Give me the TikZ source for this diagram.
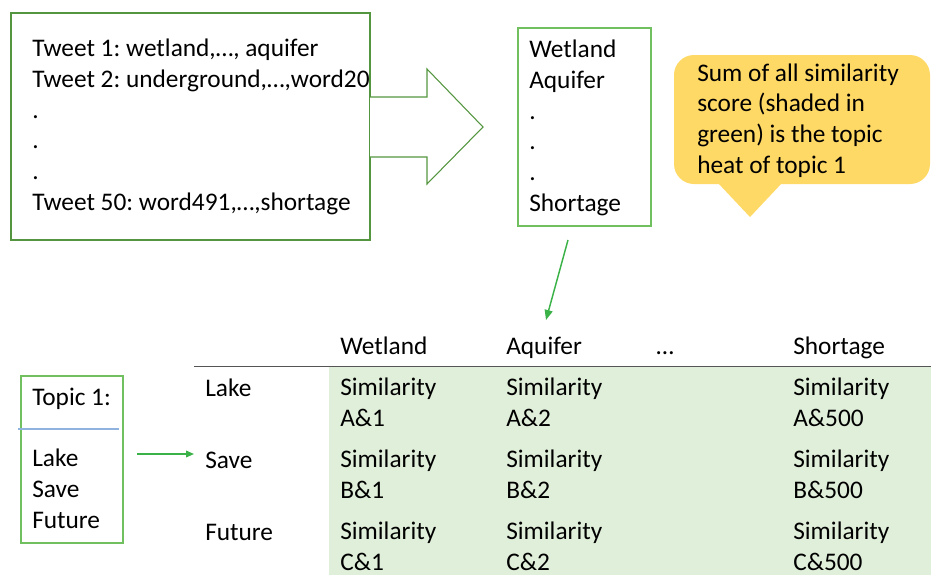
\documentclass[tikz,border=0pt]{standalone}
\usepackage{fontspec}
\setmainfont{Carlito}
\frenchspacing
\usetikzlibrary{calc,arrows.meta,positioning,fit}

\definecolor{boxgreen}{RGB}{84,150,64}
\definecolor{lightgreen}{RGB}{112,192,96}
\definecolor{arrowgreen}{RGB}{58,178,72}
\definecolor{cellgreen}{RGB}{224,239,217}
\definecolor{calloutyellow}{RGB}{255,217,102}
\definecolor{ruleblue}{RGB}{143,178,222}
\definecolor{rulegray}{RGB}{85,85,85}

\begin{document}
\begin{tikzpicture}[x=0.75pt, y=-0.75pt,
    % multi-line texts sit on the baseline of their last line
    txt/.style={inner sep=0pt, align=left, anchor=base west,
        font=\fontsize{19}{23}\selectfont},
    boxline/.style={draw=#1, line width=0.8pt, inner sep=0pt},
    greenarrow/.style={draw=arrowgreen, line width=1.1pt,
        -{Triangle[length=7.5pt, width=6pt]}}]

    \useasboundingbox (0,0) rectangle (931,575);

    % tweets and the block arrow
    \node[boxline=boxgreen, fit={(11,13) (370,240)}] (tweetbox) {};
    \node[txt] (tweets) at (32,210)
        {Tweet 1: wetland,…, aquifer\\Tweet 2: underground,…,word20\\.\\.\\.\\Tweet 50: word491,…,shortage};

    \fill[white] (370,97) -- (427,97) -- (427,69) -- (483,127)
        -- (427,184) -- (427,157) -- (370,157) -- cycle;
    \draw[boxgreen, line width=0.8pt] (370,97) -- (427,97) -- (427,69)
        -- (483,127) -- (427,184) -- (427,157) -- (370,157);

    % word list
    \node[boxline=lightgreen, fit={(518,28) (651,226)}] (wordbox) {};
    \node[txt] (words) at (529,211)
        {Wetland\\Aquifer\\.\\.\\.\\Shortage};

    % callout
    \fill[calloutyellow, rounded corners=15pt] (674,55) rectangle (930,184);
    \fill[calloutyellow] (718,183) -- (782,183) -- (750,217) -- cycle;
    \node[txt] (note) at (697,173)
        {Sum of all similarity\\score (shaded in\\green) is the topic\\heat of topic 1};

    \coordinate (downA) at (568,240);
    \coordinate (downB) at (546,320);
    \draw[greenarrow] (downA) -- (downB);

    % similarity table
    \fill[cellgreen] (329,367) rectangle (931,575);
    \draw[rulegray, line width=1.1pt] (194,366.5) -- (931,366.5);

    \node[txt] (hWetland) at (340,354) {Wetland};
    \node[txt] (hAquifer) at (506,354) {Aquifer};
    \node[txt] (hDots) at (656,354) {…};
    \node[txt] (hShortage) at (793,354) {Shortage};

    \foreach \row/\lbl/\y in {A/Lake/396, B/Save/468, C/Future/540}{
        \node[txt] (row\row) at (205,\y) {\lbl};
        \foreach \col/\num/\x in {1/1/340, 2/2/506, 3/500/793}
            \node[txt] (cell\row\col) at (\x,\y+30) {Similarity\\\row\&\num};
    }

    % topic box
    \node[boxline=lightgreen, fit={(21,376) (123,543)}] (topicbox) {};
    \node[txt] (topic) at (32,405) {Topic 1:};
    \draw[ruleblue, line width=0.8pt] (18,429) -- (119,429);
    \node[txt] (topicwords) at (32,528) {Lake\\Save\\Future};

    \coordinate (rightA) at (137,454);
    \coordinate (rightB) at (194,454);
    \draw[greenarrow, -{Triangle[length=6pt, width=5pt]}] (rightA) -- (rightB);

\end{tikzpicture}
\end{document}
